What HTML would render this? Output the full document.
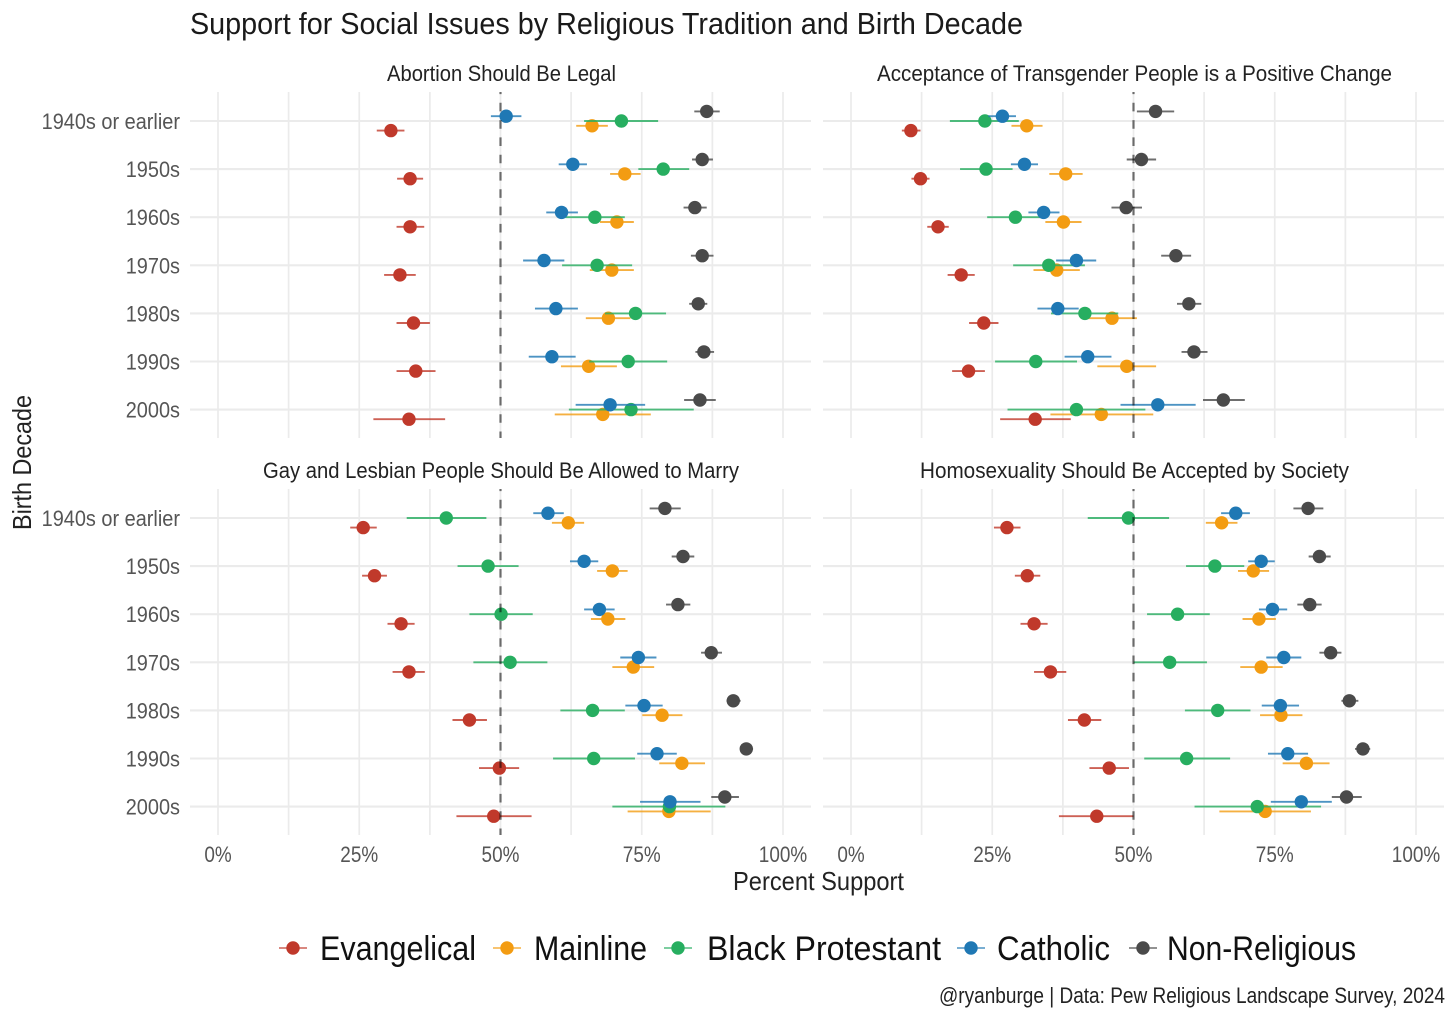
<!DOCTYPE html>
<html lang="en">
<head>
<meta charset="utf-8">
<title>Support for Social Issues by Religious Tradition and Birth Decade</title>
<style>
html,body{margin:0;padding:0;background:#fff;}
svg{display:block;font-family:"Liberation Sans",Arial,sans-serif;}
</style>
</head>
<body>
<svg id="chart" width="1456" height="1019" viewBox="0 0 1456 1019" xmlns="http://www.w3.org/2000/svg">
  <rect x="0" y="0" width="1456" height="1019" fill="#fff"/>
  <text x="190" y="34" font-size="31" fill="#1a1a1a" textLength="833" lengthAdjust="spacingAndGlyphs">Support for Social Issues by Religious Tradition and Birth Decade</text>
  <text x="387" y="81" font-size="22" fill="#222" textLength="229" lengthAdjust="spacingAndGlyphs">Abortion Should Be Legal</text>
  <text x="877" y="81" font-size="22" fill="#222" textLength="515" lengthAdjust="spacingAndGlyphs">Acceptance of Transgender People is a Positive Change</text>
  <text x="263" y="478" font-size="22" fill="#222" textLength="476" lengthAdjust="spacingAndGlyphs">Gay and Lesbian People Should Be Allowed to Marry</text>
  <text x="920" y="478" font-size="22" fill="#222" textLength="429" lengthAdjust="spacingAndGlyphs">Homosexuality Should Be Accepted by Society</text>
  <g id="panels"></g>
  <text x="733" y="890" font-size="26" fill="#222" textLength="171" lengthAdjust="spacingAndGlyphs">Percent Support</text>
  <text transform="translate(31,530) rotate(-90)" x="0" y="0" font-size="26" fill="#222" textLength="135" lengthAdjust="spacingAndGlyphs">Birth Decade</text>
  <g>
    <g>
      <line x1="279" x2="307" y1="948" y2="948" stroke="#c0392b" stroke-width="2" stroke-opacity="0.6"/>
      <circle cx="293" cy="948" r="6.7" fill="#c0392b"/>
      <text x="320" y="960" font-size="34" fill="#111" textLength="156" lengthAdjust="spacingAndGlyphs">Evangelical</text>
    </g>
    <g>
      <line x1="493" x2="521" y1="948" y2="948" stroke="#f39c12" stroke-width="2" stroke-opacity="0.6"/>
      <circle cx="507" cy="948" r="6.7" fill="#f39c12"/>
      <text x="534" y="960" font-size="34" fill="#111" textLength="113" lengthAdjust="spacingAndGlyphs">Mainline</text>
    </g>
    <g>
      <line x1="664" x2="692" y1="948" y2="948" stroke="#27ae60" stroke-width="2" stroke-opacity="0.6"/>
      <circle cx="678" cy="948" r="6.7" fill="#27ae60"/>
      <text x="707" y="960" font-size="34" fill="#111" textLength="234" lengthAdjust="spacingAndGlyphs">Black Protestant</text>
    </g>
    <g>
      <line x1="957" x2="985" y1="948" y2="948" stroke="#1f78b4" stroke-width="2" stroke-opacity="0.6"/>
      <circle cx="971" cy="948" r="6.7" fill="#1f78b4"/>
      <text x="997" y="960" font-size="34" fill="#111" textLength="113" lengthAdjust="spacingAndGlyphs">Catholic</text>
    </g>
    <g>
      <line x1="1129" x2="1157" y1="948" y2="948" stroke="#4a4a4a" stroke-width="2" stroke-opacity="0.6"/>
      <circle cx="1143" cy="948" r="6.7" fill="#4a4a4a"/>
      <text x="1167" y="960" font-size="34" fill="#111" textLength="189" lengthAdjust="spacingAndGlyphs">Non-Religious</text>
    </g>
  </g>
  <text x="939" y="1003" font-size="22" fill="#222" textLength="506" lengthAdjust="spacingAndGlyphs">@ryanburge | Data: Pew Religious Landscape Survey, 2024</text>
</svg>
<script>
// Categories and axis ticks
const decades = ["1940s or earlier", "1950s", "1960s", "1970s", "1980s", "1990s", "2000s"];
const xTickValues = [0, 25, 50, 75, 100];
const xTickLabels = ["0%", "25%", "50%", "75%", "100%"];
const xMinorValues = [12.5, 37.5, 62.5, 87.5];
const referenceValue = 50;

// Each row: [estimate, ci low, ci high], one per decade (percent support)
const abortionEvangelical = [[30.6,28.1,33.0],[34.0,31.7,36.3],[34.0,31.6,36.5],[32.2,29.4,35.0],[34.6,31.6,37.5],[35.0,31.6,38.5],[33.8,27.5,40.2]];
const abortionMainline = [[66.2,63.4,69.0],[72.0,69.4,74.8],[70.6,67.6,73.6],[69.7,65.8,73.6],[69.1,65.1,73.0],[65.6,60.7,70.6],[68.1,59.6,76.6]];
const abortionBlackProtestant = [[71.4,64.8,77.9],[78.8,74.4,83.4],[66.7,61.5,72.0],[67.1,60.9,73.3],[73.9,68.5,79.3],[72.6,65.7,79.5],[73.1,62.1,84.2]];
const abortionCatholic = [[51.0,48.3,53.7],[62.8,60.3,65.3],[60.8,58.1,63.7],[57.7,54.0,61.3],[59.8,56.1,63.7],[59.1,55.0,63.3],[69.4,63.3,75.6]];
const abortionNonReligious = [[86.5,84.3,88.8],[85.7,83.9,87.6],[84.4,82.4,86.5],[85.7,83.7,87.7],[85.0,83.4,86.6],[86.0,84.5,87.8],[85.3,82.5,88.1]];

const transEvangelical = [[10.6,9.0,12.3],[12.3,10.7,13.9],[15.4,13.5,17.3],[19.5,17.1,21.9],[23.5,20.9,26.1],[20.8,17.9,23.7],[32.6,26.4,38.9]];
const transMainline = [[31.1,28.4,33.9],[38.0,35.1,41.0],[37.6,34.4,40.8],[36.4,32.3,40.5],[46.2,41.9,50.6],[48.8,43.6,54.0],[44.3,35.3,53.5]];
const transBlackProtestant = [[23.7,17.5,29.7],[23.9,19.3,28.6],[29.1,24.1,34.1],[35.0,28.7,41.4],[41.4,35.4,47.3],[32.7,25.5,40.0],[39.9,27.7,52.1]];
const transCatholic = [[26.8,24.3,29.2],[30.7,28.3,33.1],[34.1,31.4,36.9],[39.9,36.3,43.4],[36.6,33.0,40.3],[41.9,37.8,46.1],[54.3,47.7,61.0]];
const transNonReligious = [[53.9,50.6,57.2],[51.4,48.8,54.0],[48.7,46.1,51.5],[57.5,54.9,60.2],[59.8,57.7,62.0],[60.7,58.5,63.1],[65.9,62.3,69.7]];

const marriageEvangelical = [[25.7,23.4,28.1],[27.7,25.5,29.9],[32.4,30.0,34.8],[33.8,30.9,36.6],[44.5,41.5,47.6],[49.8,46.2,53.3],[48.8,42.2,55.5]];
const marriageMainline = [[62.0,59.1,64.8],[69.8,67.1,72.5],[69.0,66.0,72.1],[73.5,69.8,77.2],[78.6,75.1,82.2],[82.1,78.1,86.2],[79.8,72.5,87.2]];
const marriageBlackProtestant = [[40.4,33.4,47.5],[47.8,42.4,53.2],[50.1,44.5,55.7],[51.7,45.2,58.3],[66.3,60.6,72.0],[66.5,59.3,73.8],[79.9,69.8,89.8]];
const marriageCatholic = [[58.4,55.8,61.2],[64.8,62.3,67.3],[67.5,64.8,70.2],[74.4,71.2,77.6],[75.4,72.1,78.7],[77.7,74.2,81.2],[80.0,74.7,85.4]];
const marriageNonReligious = [[79.1,76.4,81.9],[82.3,80.3,84.3],[81.4,79.3,83.6],[87.3,85.5,89.2],[91.2,90.0,92.5],[93.5,92.4,94.7],[89.7,87.3,92.2]];

const acceptedEvangelical = [[27.6,25.3,30.0],[31.2,29.0,33.5],[32.4,30.0,34.8],[35.3,32.4,38.1],[41.3,38.4,44.3],[45.7,42.2,49.2],[43.5,36.8,50.0]];
const acceptedMainline = [[65.6,62.8,68.4],[71.2,68.5,74.0],[72.2,69.3,75.2],[72.6,68.9,76.4],[76.1,72.4,79.9],[80.6,76.4,84.7],[73.3,65.2,81.4]];
const acceptedBlackProtestant = [[49.1,41.9,56.3],[64.4,59.3,69.6],[57.8,52.4,63.5],[56.4,50.0,63.0],[64.9,59.1,70.7],[59.4,51.9,67.1],[71.9,60.8,83.2]];
const acceptedCatholic = [[68.1,65.5,70.6],[72.6,70.3,75.0],[74.6,72.2,77.2],[76.6,73.5,79.7],[76.0,72.7,79.3],[77.3,73.8,80.9],[79.7,74.3,85.1]];
const acceptedNonReligious = [[80.9,78.3,83.6],[82.9,81.0,84.9],[81.2,79.0,83.3],[84.9,82.9,86.8],[88.2,86.8,89.8],[90.6,89.2,91.9],[87.7,85.1,90.4]];

const seriesKeys = ["evangelical", "mainline", "black-protestant", "catholic", "non-religious"];
const seriesColors = ["#c0392b", "#f39c12", "#27ae60", "#1f78b4", "#4a4a4a"];

const panels = [
  { key: "abortion", left: 190, top: 93, zero: 218, showY: true, showX: false,
    series: [abortionEvangelical, abortionMainline, abortionBlackProtestant, abortionCatholic, abortionNonReligious] },
  { key: "transgender", left: 823, top: 93, zero: 851, showY: false, showX: false,
    series: [transEvangelical, transMainline, transBlackProtestant, transCatholic, transNonReligious] },
  { key: "marriage", left: 190, top: 490, zero: 218, showY: true, showX: true,
    series: [marriageEvangelical, marriageMainline, marriageBlackProtestant, marriageCatholic, marriageNonReligious] },
  { key: "homosexuality", left: 823, top: 490, zero: 851, showY: false, showX: true,
    series: [acceptedEvangelical, acceptedMainline, acceptedBlackProtestant, acceptedCatholic, acceptedNonReligious] }
];

const SVG_NS = "http://www.w3.org/2000/svg";
const PANEL_W = 621, PANEL_H = 345, PX_PER_PCT = 5.65, ROW_STEP = 48.1, ROW_OFFSET = 28, DODGE = 4.8;
const GRID = "#ebebeb";

function xScale(panel, value) { return panel.zero + value * PX_PER_PCT; }
function yScale(panel, rowIndex) { return panel.top + ROW_OFFSET + rowIndex * ROW_STEP; }
function dodgeOffset(seriesIndex) { return (2 - seriesIndex) * DODGE; }

function makeLine(parent, x1, x2, y1, y2, stroke, width) {
  const el = document.createElementNS(SVG_NS, "line");
  el.setAttribute("x1", x1);
  el.setAttribute("x2", x2);
  el.setAttribute("y1", y1);
  el.setAttribute("y2", y2);
  el.setAttribute("stroke", stroke);
  el.setAttribute("stroke-width", width);
  parent.appendChild(el);
  return el;
}

function makeLabel(parent, str, x, y, anchor, squeeze) {
  const el = document.createElementNS(SVG_NS, "text");
  el.textContent = str;
  el.setAttribute("x", x);
  el.setAttribute("y", y);
  el.setAttribute("font-size", "22");
  el.setAttribute("fill", "#555");
  el.setAttribute("text-anchor", anchor);
  parent.appendChild(el);
  el.setAttribute("textLength", el.getComputedTextLength() * squeeze);
  el.setAttribute("lengthAdjust", "spacingAndGlyphs");
  return el;
}

const root = document.getElementById("panels");

panels.forEach(function (panel) {
  const g = document.createElementNS(SVG_NS, "g");
  
  
  root.appendChild(g);

  xMinorValues.concat(xTickValues).forEach(function (v) {
    const x = xScale(panel, v);
    const grid = makeLine(g, x, x, panel.top - 1, panel.top + PANEL_H, GRID, 1.7);
    
    
  });

  decades.forEach(function (label, i) {
    const y = yScale(panel, i);
    const grid = makeLine(g, panel.left, panel.left + PANEL_W, y, y, GRID, 2.1);
    
    
    if (panel.showY) {
      const tick = makeLabel(g, label, panel.left - 10, y + 8, "end", 0.905);
      
      
    }
  });

  if (panel.showX) {
    xTickValues.forEach(function (v, i) {
      const tick = makeLabel(g, xTickLabels[i], xScale(panel, v), 862, "middle", 0.86);
      
      
    });
  }

  panel.series.forEach(function (rows, s) {
    const sg = document.createElementNS(SVG_NS, "g");
    
    
    g.appendChild(sg);
    rows.forEach(function (row, i) {
      const y = yScale(panel, i) + dodgeOffset(s);
      const whisker = makeLine(sg, xScale(panel, row[1]), xScale(panel, row[2]), y, y, seriesColors[s], 1.9);
      whisker.setAttribute("stroke-opacity", "0.8");
      
      
      const dot = document.createElementNS(SVG_NS, "circle");
      dot.setAttribute("cx", xScale(panel, row[0]));
      dot.setAttribute("cy", y);
      dot.setAttribute("r", "6.7");
      dot.setAttribute("fill", seriesColors[s]);
      
      
      sg.appendChild(dot);
    });
  });

  const refX = xScale(panel, referenceValue);
  const ref = makeLine(g, refX, refX, panel.top - 1, panel.top + PANEL_H, "#000", 2.2);
  ref.setAttribute("stroke-opacity", "0.55");
  ref.setAttribute("stroke-dasharray", "8.6 8.7");
  ref.setAttribute("stroke-dashoffset", "6.5");
  
  
});
</script>
</body>
</html>
